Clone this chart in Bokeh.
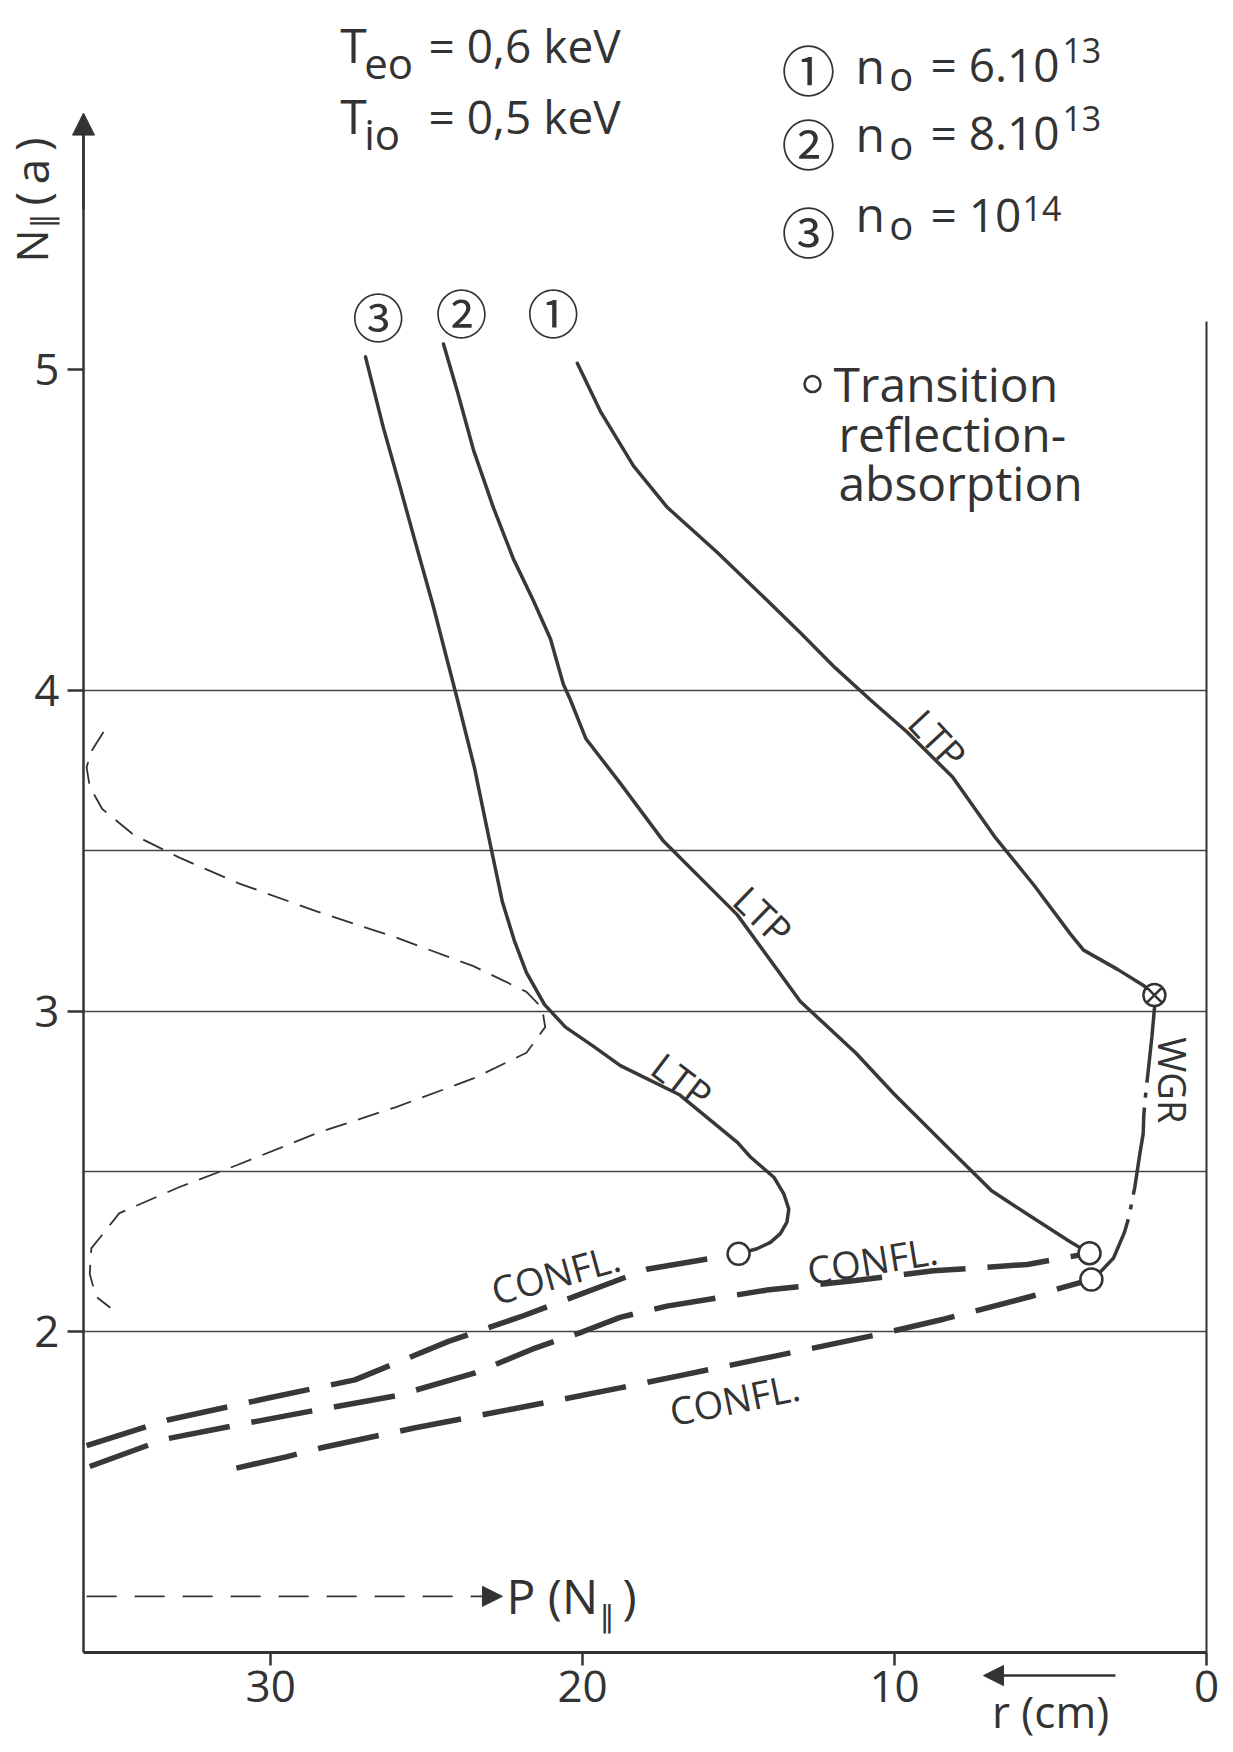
from bokeh.plotting import figure
from bokeh.models import Range1d, FixedTicker, Label, Arrow, NormalHead
from bokeh.embed import file_html
from bokeh.resources import INLINE
import math

# ---------------- data (r in cm, N_parallel(a)) ----------------
r_ticks = [0, 10, 20, 30]
n_ticks = [2, 3, 4, 5]
grid_levels = [2.0, 2.5, 3.0, 3.5, 4.0]

# LTP branches (solid)
c1_r = [20.17, 19.43, 18.37, 17.28, 15.68, 14.08, 13.02, 11.9, 10.77, 9.6, 8.14, 6.76, 5.51, 4.36, 3.94, 2.85, 2.02, 1.67]
c1_n = [5.02, 4.87, 4.70, 4.57, 4.43, 4.28, 4.18, 4.07, 3.97, 3.87, 3.73, 3.54, 3.39, 3.24, 3.19, 3.13, 3.08, 3.05]

c2_r = [24.46, 24.01, 23.50, 22.86, 22.22, 21.58, 21.03, 20.62, 20.39, 19.9, 18.79, 17.41, 15.04, 13.02, 11.25, 10.0, 8.14, 6.89, 5.64, 4.36, 3.75]
c2_n = [5.08, 4.93, 4.75, 4.57, 4.41, 4.28, 4.16, 4.02, 3.97, 3.85, 3.71, 3.53, 3.30, 3.03, 2.87, 2.74, 2.56, 2.44, 2.36, 2.28, 2.245]

c3_r = [26.96, 26.39, 25.84, 25.30, 24.78, 24.33, 24.01, 23.47, 22.96, 22.57, 22.19, 21.80, 21.22, 20.55, 19.65, 18.79, 16.91, 15.03, 14.62, 13.87, 13.55, 13.39, 13.45, 13.66, 13.98, 14.41, 15.0]
c3_n = [5.04, 4.82, 4.63, 4.44, 4.26, 4.09, 3.97, 3.76, 3.52, 3.34, 3.22, 3.12, 3.02, 2.95, 2.89, 2.83, 2.74, 2.59, 2.545, 2.482, 2.430, 2.383, 2.342, 2.306, 2.279, 2.259, 2.243]

# confluence branches (thick dashed)
cfA_r = [35.9, 33.3, 30.0, 27.3, 24.3, 21.9, 18.9, 17.9, 15.5, 15.0]
cfA_n = [1.645, 1.725, 1.795, 1.85, 1.97, 2.05, 2.16, 2.196, 2.235, 2.243]
cfB_r = [35.8, 33.4, 30.5, 28.3, 26.0, 23.5, 21.5, 20.0, 18.8, 17.3, 14.1, 11.25, 8.75, 5.74, 3.75]
cfB_n = [1.58, 1.665, 1.72, 1.76, 1.80, 1.87, 1.95, 2.0, 2.045, 2.08, 2.13, 2.16, 2.19, 2.21, 2.245]
cfC_r = [31.1, 29.5, 28.3, 25.4, 22.2, 18.8, 16.8, 13.8, 10.6, 8.4, 5.64, 4.0, 3.69]
cfC_n = [1.575, 1.61, 1.64, 1.70, 1.76, 1.825, 1.865, 1.925, 1.99, 2.04, 2.11, 2.155, 2.163]

# WGR branch (dash-dot)
wgr_r = [1.67, 1.66, 1.75, 1.85, 1.96, 2.01, 2.03, 2.12, 2.30, 2.49, 2.63, 2.98, 3.37, 3.62]
wgr_n = [3.05, 3.017, 2.92, 2.83, 2.732, 2.675, 2.617, 2.565, 2.45, 2.357, 2.31, 2.23, 2.19, 2.17]

# spectrum P(N_parallel) (thin dashed)
spec_r = [35.36, 35.75, 35.9, 35.8, 35.4, 34.4, 32.96, 31.07, 28.5, 26.0, 23.5, 21.8, 21.3, 21.2, 21.8, 23.5, 26.0, 28.5, 31.07, 32.96, 34.85, 35.75, 35.8, 35.6, 35.14]
spec_n = [3.87, 3.81, 3.76, 3.70, 3.63, 3.55, 3.48, 3.40, 3.31, 3.23, 3.14, 3.06, 3.01, 2.95, 2.87, 2.79, 2.70, 2.62, 2.52, 2.45, 2.37, 2.26, 2.18, 2.11, 2.075]

# transition reflection-absorption points
trans_r = [15.0, 3.75, 3.69]
trans_n = [2.243, 2.245, 2.163]
mode_r = [1.67]
mode_n = [3.05]

# axis extents and extras
r_axis = (0.0, 36.0)
n_axis = (1.0, 5.78)
edge_n = [1.0, 5.15]
p_arrow_r = [35.9, 22.57]
p_arrow_n = 1.175

INK = "#333333"
LINE = "#383838"
FONT = "Open Sans"
CJK = "Noto Sans CJK JP"

# pixel scale of the plot (px per cm, px per unit of N)
PX_R = 31.19
PX_N = 320.7

p = figure(width=1233, height=1752,
           x_range=Range1d(r_axis[1] + 83 / PX_R, r_axis[0] - 27 / PX_R),
           y_range=Range1d(n_axis[0] - 100 / PX_N, n_axis[1] + 119 / PX_N),
           output_backend="svg", toolbar_location=None)
p.min_border = 0
p.outline_line_color = None
p.background_fill_color = "white"
p.border_fill_color = "white"

# horizontal reference lines
p.xgrid.grid_line_color = None
p.ygrid.ticker = FixedTicker(ticks=grid_levels)
try:
    p.ygrid.cross_bounds = r_axis
    p.ygrid.grid_line_color = "#444444"
    p.ygrid.grid_line_width = 1.6
except Exception:
    p.ygrid.grid_line_color = None
    p.segment(x0=r_axis[1], y0=grid_levels, x1=r_axis[0], y1=grid_levels, line_color="#444444", line_width=1.6)

for ax, ticks, tout in ((p.xaxis, r_ticks, 13), (p.yaxis, n_ticks, 16)):
    ax.ticker = FixedTicker(ticks=ticks)
    ax.major_tick_out = tout
    ax.major_tick_in = 0
    ax.minor_tick_out = 0
    ax.minor_tick_in = 0
    ax.axis_line_color = INK
    ax.major_tick_line_color = INK
    ax.major_tick_line_width = 2.5
    ax.major_label_text_font = FONT
    ax.major_label_text_font_size = "44px"
    ax.major_label_text_color = INK
p.xaxis.fixed_location = n_axis[0]
p.xaxis.bounds = r_axis
p.yaxis.fixed_location = r_axis[1]
p.yaxis.bounds = n_axis
p.xaxis.axis_line_width = 3
p.yaxis.axis_line_width = 2.5
p.xaxis.major_label_standoff = 6
p.yaxis.major_label_standoff = 8

# right boundary line
p.segment(x0=r_axis[0], y0=edge_n[0], x1=r_axis[0], y1=edge_n[1], line_color=INK, line_width=2)

# spectrum
p.line(spec_r, spec_n, line_color=INK, line_width=1.8, line_dash="22 12")

# curves
for rr, nn in ((c1_r, c1_n), (c2_r, c2_n), (c3_r, c3_n)):
    p.line(rr, nn, line_color=LINE, line_width=3.5, line_join="round", line_cap="round")
for rr, nn in ((cfA_r, cfA_n), (cfB_r, cfB_n), (cfC_r, cfC_n)):
    p.line(rr, nn, line_color=LINE, line_width=5.5, line_dash="62 22")
p.line(wgr_r, wgr_n, line_color=LINE, line_width=3.5, line_dash="88 10 5 10")

p.scatter(trans_r, trans_n, marker="circle", size=22, line_color=INK, line_width=2.5, fill_color="white")
p.scatter(mode_r, mode_n, marker="circle_x", size=22, line_color=INK, line_width=2.5, fill_color="white")
# legend marker for "Transition"
p.scatter([12.63], [4.955], marker="circle", size=16, line_color=INK, line_width=2.5, fill_color="white")

# arrows
p.add_layout(Arrow(x_start=r_axis[1], y_start=5.5, x_end=r_axis[1], y_end=5.80, line_color=INK, line_width=2.5,
                   end=NormalHead(size=22, fill_color=INK, line_color=INK, line_width=1)))
p.add_layout(Arrow(x_start=p_arrow_r[0], y_start=p_arrow_n, x_end=p_arrow_r[1], y_end=p_arrow_n,
                   line_color=INK, line_width=1.8, line_dash="30 18",
                   end=NormalHead(size=20, fill_color=INK, line_color=INK, line_width=1)))
p.add_layout(Arrow(x_start=2.92, y_start=0.928, x_end=7.15, y_end=0.928, line_color=INK, line_width=2.5,
                   end=NormalHead(size=20, fill_color=INK, line_color=INK, line_width=1)))


def lab(text, x, y, size, angle=0.0, align="left", font=FONT, on_baseline=True):
    """Place a text; (x, y) is on the text baseline unless on_baseline=False (then the middle)."""
    if on_baseline:
        d = 0.36 * size
        x = x + math.sin(angle) * d / PX_R
        y = y + math.cos(angle) * d / PX_N
    p.add_layout(Label(x=x, y=y, text=text, text_font=font, text_font_size=f"{size}px",
                       text_color=INK, text_align=align, text_baseline="middle", angle=angle))


# temperatures
lab("T", 27.77, 5.96, 48)
lab("eo", 27.0, 5.91, 42)
lab("= 0,6 keV", 24.94, 5.96, 46)
lab("T", 27.77, 5.74, 48)
lab("io", 27.0, 5.69, 42)
lab("= 0,5 keV", 24.94, 5.74, 46)

# densities
dens = [("\u2460", "= 6.10", "13", 5.939, 5.896, 5.871, 5.902, 5.958, 4.62),
        ("\u2461", "= 8.10", "13", 5.708, 5.684, 5.658, 5.690, 5.746, 4.62),
        ("\u2462", "= 10", "14", 5.434, 5.433, 5.408, 5.433, 5.465, 5.90)]
for circ, val, ex, yc, yn, yo, yv, ye, xe in dens:
    lab(circ, 12.76, yc, 54, align="center", font=CJK, on_baseline=False)
    lab("n", 11.25, yn, 48)
    lab("o", 10.17, yo, 40)
    lab(val, 8.85, yv, 46)
    lab(ex, xe, ye, 34)

# curve tags
lab("\u2462", 26.55, 5.169, 52, align="center", font=CJK, on_baseline=False)
lab("\u2461", 23.88, 5.18, 52, align="center", font=CJK, on_baseline=False)
lab("\u2460", 20.94, 5.18, 52, align="center", font=CJK, on_baseline=False)

# transition legend
lab("Transition", 11.96, 4.904, 48)
lab("reflection-", 11.80, 4.748, 48)
lab("absorption", 11.80, 4.595, 48)

# branch labels
lab("LTP", 8.6, 3.85, 38, angle=-0.82, align="center", on_baseline=False)
lab("LTP", 14.2, 3.30, 38, angle=-0.77, align="center", on_baseline=False)
lab("LTP", 16.8, 2.785, 38, angle=-0.65, align="center", on_baseline=False)
lab("WGR", 1.06, 2.784, 38, angle=-math.pi / 2, align="center", on_baseline=False)
lab("CONFL.", 20.87, 2.182, 38, angle=0.27, align="center", on_baseline=False)
lab("CONFL.", 10.71, 2.225, 38, angle=0.16, align="center", on_baseline=False)
lab("CONFL.", 15.13, 1.792, 38, angle=0.20, align="center", on_baseline=False)

# P(N||)
lab("P (N", 22.44, 1.125, 48)
lab("\u2225", 19.46, 1.078, 30, font="DejaVu Sans")
lab(")", 18.72, 1.125, 48)

# axis titles
lab("N", 37.16, 5.334, 44, angle=math.pi / 2)
lab("\u2225", 36.97, 5.44, 30, angle=math.pi / 2, font="DejaVu Sans")
lab("(\u2009a\u2009)", 37.16, 5.512, 46, angle=math.pi / 2)
lab("r (cm)", 5.0, 0.769, 44, align="center")

open("out.html", "w").write(file_html(p, INLINE))
